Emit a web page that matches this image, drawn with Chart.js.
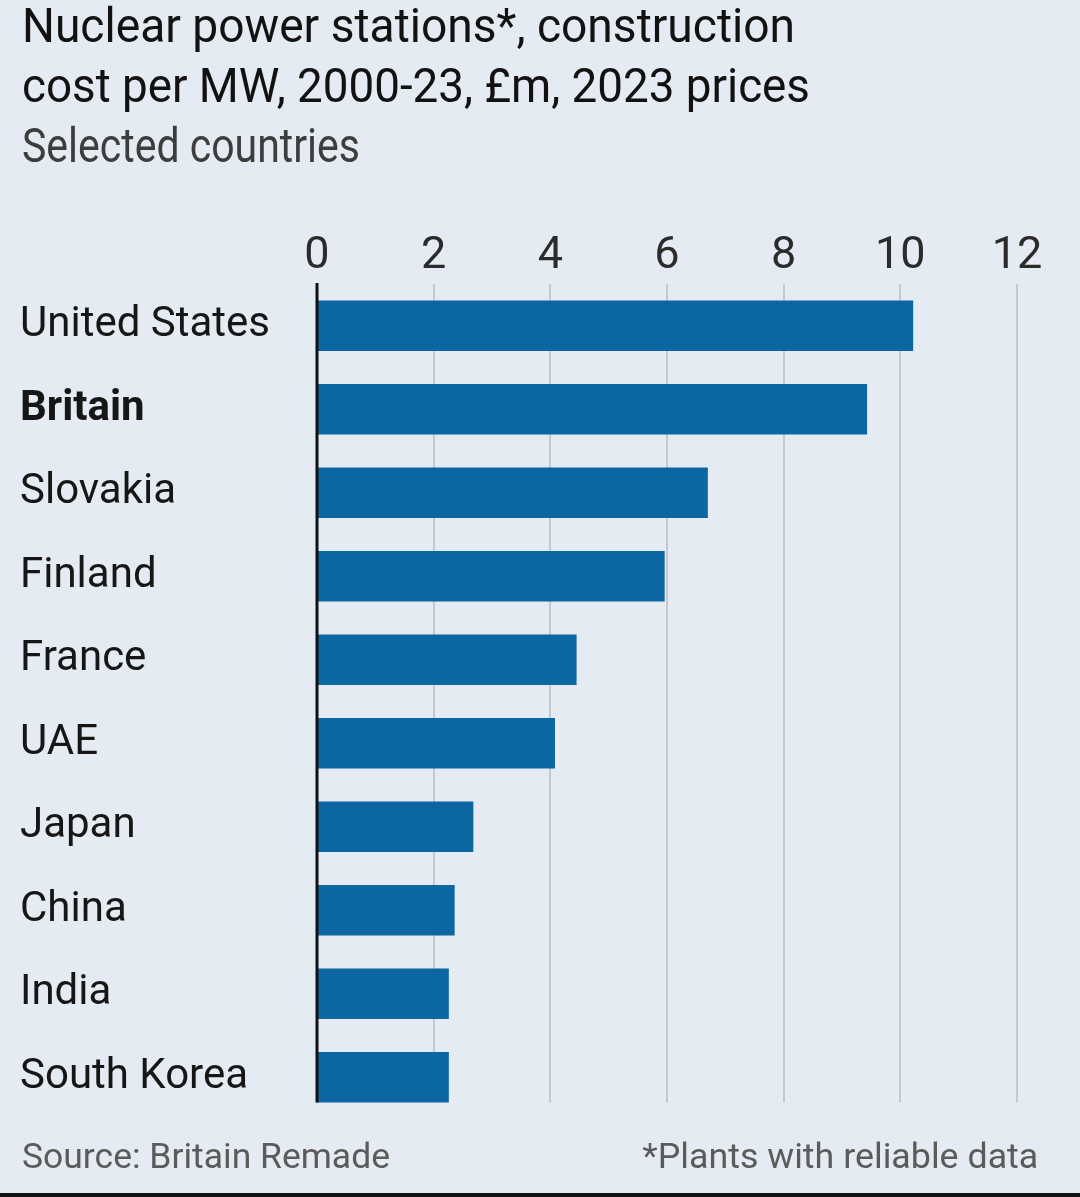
<!DOCTYPE html>
<html>
<head>
<meta charset="utf-8">
<script src="https://cdn.jsdelivr.net/npm/chart.js@4.4.1/dist/chart.umd.min.js"></script>
<style>
  html, body { margin: 0; padding: 0; }
  body { width: 1080px; height: 1197px; background: #e4ebf2; position: relative; overflow: hidden;
         font-family: 'Roboto', sans-serif; }
  .txt { position: absolute; white-space: nowrap; line-height: 1; transform-origin: left top; }
  #t1, #t2 { left: 22px; font-size: 49px; color: #121212; }
  #t1 { top: 1px; }
  #t2 { top: 61px; }
  #sub { left: 22px; top: 121px; font-size: 49px; color: #3d3d3d; }
  #src { left: 22px; top: 1139px; font-size: 35px; color: #5b5b5b; }
  #note { right: 42px; top: 1139px; font-size: 35px; color: #5b5b5b; transform-origin: right top; }
  #rule { position: absolute; left: 0; right: 0; bottom: 0; height: 4px; background: #111; }
  #box { position: absolute; left: 0; top: 0; width: 1080px; height: 1197px; }
</style>
</head>
<body>
<div id="box"><canvas id="myChart"></canvas></div>
<div class="txt" id="t1">Nuclear power stations*, construction</div>
<div class="txt" id="t2">cost per MW, 2000-23, £m, 2023 prices</div>
<div class="txt" id="sub">Selected countries</div>
<div class="txt" id="src">Source: Britain Remade</div>
<div class="txt" id="note">*Plants with reliable data</div>
<div id="rule"></div>
<script>
const countries = ['United States', 'Britain', 'Slovakia', 'Finland', 'France', 'UAE', 'Japan', 'China', 'India', 'South Korea'];
const costPerMW = [10.22, 9.43, 6.70, 5.96, 4.45, 4.08, 2.68, 2.36, 2.26, 2.26];
const xTicks = [0, 2, 4, 6, 8, 10, 12];

const labelFont = "'Roboto', sans-serif";

// squeeze the heading texts to the widths of the original
function fitWidth(id, target) {
    const el = document.getElementById(id);
    const w = el.getBoundingClientRect().width;
    el.style.transform = 'scaleX(' + (target / w) + ')';
}
fitWidth('t1', 773);
fitWidth('t2', 788);
fitWidth('sub', 338);
fitWidth('src', 368);
fitWidth('note', 396);

// gridlines stop at the bottom of the last bar, zero line in black on top
const gridLines = {
    id: 'gridLines',
    beforeDatasetsDraw(chart) {
        const ctx = chart.ctx
        const x = chart.scales.x
        const bars = chart.getDatasetMeta(0).data
        const last = bars[bars.length - 1]
        const bottom = last.y + last.height / 2
        ctx.save()
        ctx.strokeStyle = '#c2c9d0'
        ctx.lineWidth = 2
        xTicks.forEach(v => {
            if (v === 0) return
            const px = Math.round(x.getPixelForValue(v))
            ctx.beginPath()
            ctx.moveTo(px, chart.chartArea.top)
            ctx.lineTo(px, bottom)
            ctx.stroke()
        })
        ctx.restore()
    },
    afterDatasetsDraw(chart) {
        const ctx = chart.ctx
        const x = chart.scales.x
        const bars = chart.getDatasetMeta(0).data
        const last = bars[bars.length - 1]
        const bottom = last.y + last.height / 2
        const px = x.getPixelForValue(0)
        ctx.save()
        ctx.strokeStyle = '#111111'
        ctx.lineWidth = 3
        ctx.beginPath()
        ctx.moveTo(px, chart.chartArea.top - 1)
        ctx.lineTo(px, bottom)
        ctx.stroke()
        ctx.restore()
    }
};

const data = {
    labels: countries,
    datasets: [{
        label: 'Construction cost per MW, £m',
        data: costPerMW,
        backgroundColor: '#0b66a1',
        borderWidth: 0,
        categoryPercentage: 1,
        barPercentage: 0.605
    }]
};

const config = {
    type: 'bar',
    data: data,
    plugins: [gridLines],
    options: {
        indexAxis: 'y',
        responsive: true,
        maintainAspectRatio: false,
        animation: false,
        layout: {
            padding: { left: 20, right: 63, top: 214, bottom: 78 }
        },
        scales: {
            x: {
                position: 'top',
                min: 0,
                max: 12,
                afterBuildTicks(scale) {
                    scale.ticks = xTicks.map(v => ({ value: v }))
                },
                afterFit(scale) {
                    scale.height = 70
                },
                grid: { display: false, drawTicks: false },
                border: { display: false },
                ticks: {
                    padding: 0,
                    color: '#2b2b2b',
                    font: { size: 45, family: labelFont }
                }
            },
            y: {
                afterFit(scale) {
                    scale.width = 297
                },
                grid: { display: false, drawTicks: false },
                border: { display: false },
                ticks: {
                    crossAlign: 'far',
                    padding: 0,
                    color: '#161616',
                    font: (c) => ({
                        size: 42,
                        family: labelFont,
                        weight: c.index === 1 ? 'bold' : 'normal'
                    })
                }
            }
        },
        plugins: {
            legend: { display: false },
            tooltip: { enabled: false }
        }
    }
};

const graficoCusto = new Chart(document.getElementById('myChart'), config);
</script>
</body>
</html>
